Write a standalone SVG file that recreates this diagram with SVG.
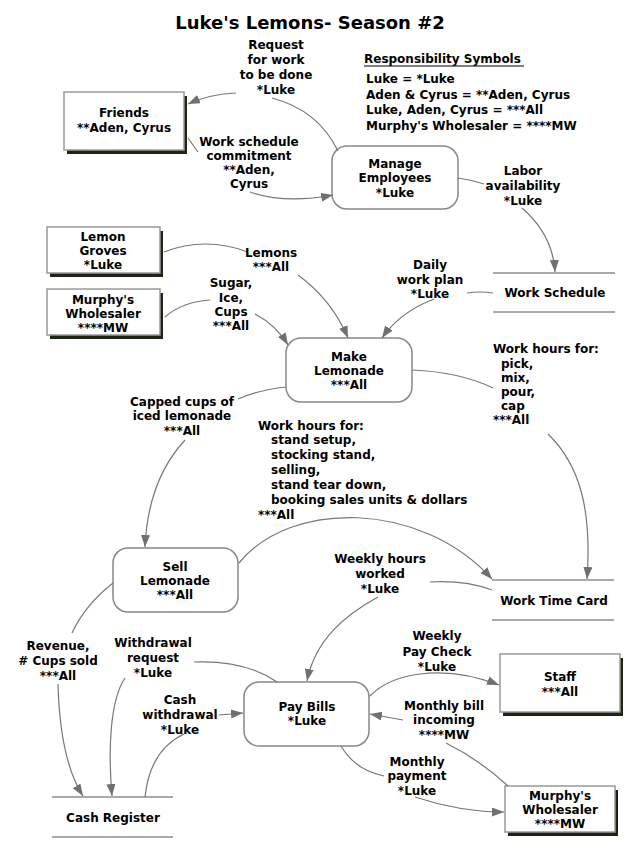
<svg xmlns="http://www.w3.org/2000/svg" width="641" height="850" viewBox="0 0 641 850">
<style>
text{font-family:"DejaVu Sans","Verdana",sans-serif;font-weight:bold;font-size:12px;fill:#000}
.c{text-anchor:middle}
.title{font-size:18px}
.ent{fill:#fff;stroke:#999;stroke-width:1.5}
.shd{fill:#1c2612}
.proc{fill:#fff;stroke:#888;stroke-width:1.5}
.store{stroke:#aaa;stroke-width:2}
.cn path{fill:none;stroke:#777;stroke-width:1.2}
</style>
<defs>
<marker id="ah" markerUnits="userSpaceOnUse" markerWidth="13" markerHeight="10" refX="12" refY="4.5" orient="auto">
<path d="M0,0 L12,4.5 L0,9 z" fill="#707070"/>
</marker>
</defs>
<rect width="641" height="850" fill="#fff"/>
<text class="c title" x="310" y="29">Luke's Lemons- Season #2</text>
<g id="legend">
<text x="364" y="63">Responsibility Symbols</text>
<line x1="364" y1="66" x2="524" y2="66" stroke="#000" stroke-width="1"/>
<text x="366" y="83">Luke = *Luke</text>
<text x="366" y="99">Aden &amp; Cyrus = **Aden, Cyrus</text>
<text x="366" y="114">Luke, Aden, Cyrus = ***All</text>
<text x="366" y="130">Murphy's Wholesaler = ****MW</text>
</g>
<g id="friends">
<rect class="shd" x="67" y="96" width="120" height="58"/>
<rect class="ent" x="64" y="92" width="120" height="58"/>
<text class="c" x="124" y="117">Friends</text>
<text class="c" x="124" y="132">**Aden, Cyrus</text>
</g>
<g id="manage-employees">
<rect class="proc" x="332" y="146" width="126" height="63" rx="15"/>
<text class="c" x="395" y="168">Manage</text>
<text class="c" x="395" y="182">Employees</text>
<text class="c" x="395" y="197">*Luke</text>
</g>
<g id="work-schedule">
<line class="store" x1="493" y1="273" x2="615" y2="273"/>
<line class="store" x1="493" y1="312" x2="615" y2="312"/>
<text class="c" x="555" y="297">Work Schedule</text>
</g>
<g id="lemon-groves">
<rect class="shd" x="50" y="231" width="113" height="46"/>
<rect class="ent" x="47" y="227" width="113" height="46"/>
<text class="c" x="103" y="241">Lemon</text>
<text class="c" x="103" y="255">Groves</text>
<text class="c" x="103" y="269">*Luke</text>
</g>
<g id="murphys-1">
<rect class="shd" x="50" y="293" width="113" height="46"/>
<rect class="ent" x="47" y="289" width="113" height="46"/>
<text class="c" x="103" y="304">Murphy's</text>
<text class="c" x="103" y="318">Wholesaler</text>
<text class="c" x="103" y="332">****MW</text>
</g>
<g id="make-lemonade">
<rect class="proc" x="286" y="338" width="126" height="64" rx="15"/>
<text class="c" x="349" y="361">Make</text>
<text class="c" x="349" y="375">Lemonade</text>
<text class="c" x="349" y="389">***All</text>
</g>
<g id="sell-lemonade">
<rect class="proc" x="113" y="548" width="125" height="64" rx="15"/>
<text class="c" x="175" y="571">Sell</text>
<text class="c" x="175" y="585">Lemonade</text>
<text class="c" x="175" y="599">***All</text>
</g>
<g id="work-time-card">
<line class="store" x1="492" y1="580" x2="614" y2="580"/>
<line class="store" x1="492" y1="620" x2="614" y2="620"/>
<text class="c" x="554" y="605">Work Time Card</text>
</g>
<g id="pay-bills">
<rect class="proc" x="244" y="682" width="125" height="64" rx="15"/>
<text class="c" x="307" y="711">Pay Bills</text>
<text class="c" x="307" y="725">*Luke</text>
</g>
<g id="staff">
<rect class="shd" x="503" y="658" width="120" height="58"/>
<rect class="ent" x="500" y="654" width="120" height="58"/>
<text class="c" x="560" y="681">Staff</text>
<text class="c" x="560" y="696">***All</text>
</g>
<g id="murphys-2">
<rect class="shd" x="508" y="790" width="110" height="46"/>
<rect class="ent" x="505" y="786" width="110" height="46"/>
<text class="c" x="560" y="800">Murphy's</text>
<text class="c" x="560" y="814">Wholesaler</text>
<text class="c" x="560" y="828">****MW</text>
</g>
<g id="cash-register">
<line class="store" x1="52" y1="797" x2="173" y2="797"/>
<line class="store" x1="52" y1="837" x2="173" y2="837"/>
<text class="c" x="113" y="822">Cash Register</text>
</g>
<g id="connectors" class="cn">
<path d="M338 151 Q318 110 272 98"/>
<path d="M236 93 Q210 94 188 104" marker-end="url(#ah)"/>
<path d="M188 138 L198 152"/>
<path d="M250 192 Q285 204 333 195" marker-end="url(#ah)"/>
<path d="M458 178 Q472 180 484 184"/>
<path d="M522 208 Q553 235 555 272" marker-end="url(#ah)"/>
<path d="M493 293 Q480 291 467 293"/>
<path d="M434 299 Q400 312 382 338" marker-end="url(#ah)"/>
<path d="M164 252 Q205 236 248 252"/>
<path d="M298 275 Q332 300 348 338" marker-end="url(#ah)"/>
<path d="M165 317 Q182 302 210 300"/>
<path d="M255 314 Q276 325 288 345" marker-end="url(#ah)"/>
<path d="M286 387 Q258 390 238 399"/>
<path d="M185 440 Q148 480 145 547" marker-end="url(#ah)"/>
<path d="M412 370 Q460 372 493 388"/>
<path d="M548 434 C580 465 592 510 587 579" marker-end="url(#ah)"/>
<path d="M239 563 C290 500 420 500 492 579" marker-end="url(#ah)"/>
<path d="M492 590 Q465 580 430 582"/>
<path d="M378 597 C345 615 315 640 307 681" marker-end="url(#ah)"/>
<path d="M113 583 Q85 605 72 633"/>
<path d="M58 684 Q60 760 83 796" marker-end="url(#ah)"/>
<path d="M277 682 Q245 660 194 662"/>
<path d="M125 678 C110 700 108 750 112 796" marker-end="url(#ah)"/>
<path d="M145 797 Q150 750 184 734"/>
<path d="M219 715 L243 713" marker-end="url(#ah)"/>
<path d="M370 696 C390 675 440 662 499 685" marker-end="url(#ah)"/>
<path d="M508 786 Q480 760 446 743"/>
<path d="M403 720 L370 714" marker-end="url(#ah)"/>
<path d="M341 746 Q355 770 384 776"/>
<path d="M415 797 Q460 812 504 812" marker-end="url(#ah)"/>
</g>
<g id="labels">
<text class="c" x="276" y="49">Request</text>
<text class="c" x="276" y="64">for work</text>
<text class="c" x="276" y="79">to be done</text>
<text class="c" x="276" y="94">*Luke</text>
<text class="c" x="249" y="146">Work schedule</text>
<text class="c" x="249" y="160">commitment</text>
<text class="c" x="249" y="174">**Aden,</text>
<text class="c" x="249" y="188">Cyrus</text>
<text class="c" x="523" y="175">Labor</text>
<text class="c" x="523" y="190">availability</text>
<text class="c" x="523" y="205">*Luke</text>
<text class="c" x="430" y="269">Daily</text>
<text class="c" x="430" y="284">work plan</text>
<text class="c" x="430" y="298">*Luke</text>
<text class="c" x="271" y="257">Lemons</text>
<text class="c" x="271" y="271">***All</text>
<text class="c" x="231" y="287">Sugar,</text>
<text class="c" x="231" y="302">Ice,</text>
<text class="c" x="231" y="316">Cups</text>
<text class="c" x="231" y="330">***All</text>
<text class="c" x="182" y="406">Capped cups of</text>
<text class="c" x="182" y="420">iced lemonade</text>
<text class="c" x="182" y="435">***All</text>
<text x="493" y="353">Work hours for:</text>
<text x="501" y="368">pick,</text>
<text x="501" y="382">mix,</text>
<text x="501" y="396">pour,</text>
<text x="501" y="410">cap</text>
<text x="493" y="424">***All</text>
<text x="258" y="430">Work hours for:</text>
<text x="271" y="444">stand setup,</text>
<text x="271" y="459">stocking stand,</text>
<text x="271" y="474">selling,</text>
<text x="271" y="489">stand tear down,</text>
<text x="271" y="504">booking sales units &amp; dollars</text>
<text x="258" y="519">***All</text>
<text class="c" x="380" y="563">Weekly hours</text>
<text class="c" x="380" y="578">worked</text>
<text class="c" x="380" y="593">*Luke</text>
<text class="c" x="58" y="650">Revenue,</text>
<text class="c" x="58" y="665"># Cups sold</text>
<text class="c" x="58" y="680">***All</text>
<text class="c" x="153" y="647">Withdrawal</text>
<text class="c" x="153" y="662">request</text>
<text class="c" x="153" y="677">*Luke</text>
<text class="c" x="180" y="704">Cash</text>
<text class="c" x="180" y="719">withdrawal</text>
<text class="c" x="180" y="734">*Luke</text>
<text class="c" x="437" y="640">Weekly</text>
<text class="c" x="437" y="656">Pay Check</text>
<text class="c" x="437" y="671">*Luke</text>
<text class="c" x="444" y="710">Monthly bill</text>
<text class="c" x="444" y="724">incoming</text>
<text class="c" x="444" y="739">****MW</text>
<text class="c" x="417" y="766">Monthly</text>
<text class="c" x="417" y="780">payment</text>
<text class="c" x="417" y="795">*Luke</text>
</g>
</svg>
